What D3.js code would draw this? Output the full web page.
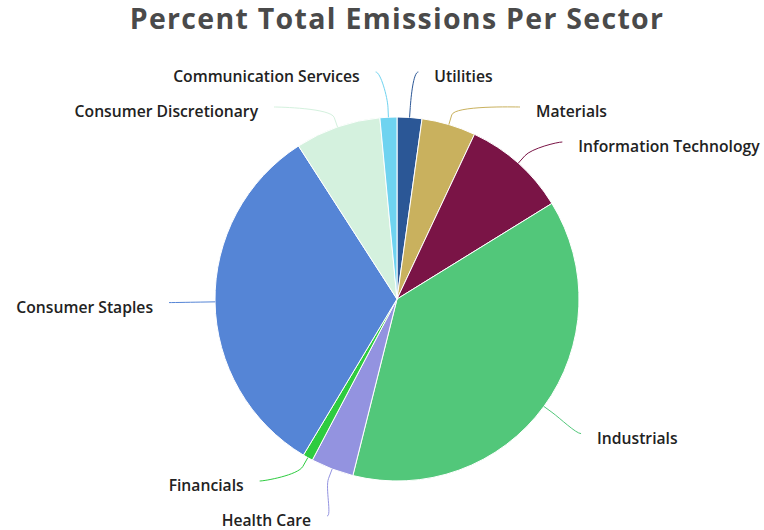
<!DOCTYPE html>
<html>
<head>
<meta charset="utf-8">
<script src="https://cdn.jsdelivr.net/npm/d3@7"></script>
<style>
body { margin: 0; background: #fff; }
.label { font-family: "Open Sans", sans-serif; font-weight: 600; font-size: 15.7px; fill: #222; }
.title { font-family: "Open Sans", sans-serif; font-weight: 700; font-size: 28.5px; fill: #4a4a4a; letter-spacing: 1.3px; }
</style>
</head>
<body>
<script>
// data, clockwise from 12 o'clock
var sectors = ["Utilities", "Materials", "Information Technology", "Industrials", "Health Care",
    "Financials", "Consumer Staples", "Consumer Discretionary", "Communication Services"];
var percents = [2.2, 4.8, 9.2, 37.7, 3.8, 0.9, 32.3, 7.6, 1.5];
var colors = ["#2b5796", "#c9b15e", "#7a1446", "#52c77a", "#9393e0",
    "#2ecc40", "#5585d6", "#d4f1de", "#6fd3f0"];

var width = 764, height = 530;
var cx = 397, cy = 299, r = 182;
var labelR = 228, gap = 35, topY = 72, bottomY = 516;

var svg = d3.select("body").append("svg")
    .attr("width", width)
    .attr("height", height);

svg.append("text")
    .attr("class", "title")
    .attr("x", cx)
    .attr("y", 29)
    .attr("text-anchor", "middle")
    .text("Percent Total Emissions Per Sector");

var pie = d3.pie().sort(null).value(function (d) { return d; });
var arcs = pie(percents);
var arc = d3.arc().innerRadius(0).outerRadius(r);

var g = svg.append("g").attr("transform", "translate(" + cx + "," + cy + ")");

g.selectAll("path.slice")
    .data(arcs)
    .enter().append("path")
    .attr("class", "slice")
    .attr("d", arc)
    .attr("fill", function (d, i) { return colors[i]; })
    .attr("stroke", "#fff")
    .attr("stroke-width", 1);

// label layout: ideal y on the label circle, then push apart per side
var labels = arcs.map(function (a, i) {
    var mid = (a.startAngle + a.endAngle) / 2;
    return { i: i, mid: mid, side: Math.sin(mid) >= 0 ? 1 : -1, y: -labelR * Math.cos(mid) };
});
[1, -1].forEach(function (side) {
    var s = labels.filter(function (l) { return l.side === side; })
        .sort(function (a, b) { return a.y - b.y; });
    for (var k = 0; k < s.length; k++) {
        s[k].y = Math.max(s[k].y, topY - cy, k > 0 ? s[k - 1].y + gap : -1e9);
    }
    for (var k = s.length - 1; k >= 0; k--) {
        s[k].y = Math.min(s[k].y, bottomY - cy, k < s.length - 1 ? s[k + 1].y - gap : 1e9);
    }
});
labels.forEach(function (l) {
    var dy = Math.min(Math.abs(l.y), labelR);
    l.x = l.side * Math.sqrt(labelR * labelR - dy * dy);
    l.tx = r * Math.sin(l.mid);
    l.ty = -r * Math.cos(l.mid);
    l.bx = (r + 10) * Math.sin(l.mid);
    l.by = -(r + 10) * Math.cos(l.mid);
});

g.selectAll("path.connector")
    .data(labels)
    .enter().append("path")
    .attr("class", "connector")
    .attr("fill", "none")
    .attr("stroke", function (d) { return colors[d.i]; })
    .attr("stroke-width", 1)
    .attr("d", function (d) {
        return "M" + d.x + "," + d.y +
            "C" + (d.x - d.side * 5) + "," + d.y + " " +
            (2 * d.bx - d.tx) + "," + (2 * d.by - d.ty) + " " + d.bx + "," + d.by +
            "L" + d.tx + "," + d.ty;
    });

g.selectAll("text.label")
    .data(labels)
    .enter().append("text")
    .attr("class", "label")
    .attr("x", function (d) { return d.x + d.side * 16; })
    .attr("y", function (d) { return d.y + 10; })
    .attr("text-anchor", function (d) { return d.side > 0 ? "start" : "end"; })
    .text(function (d) { return sectors[d.i]; });
</script>
</body>
</html>
